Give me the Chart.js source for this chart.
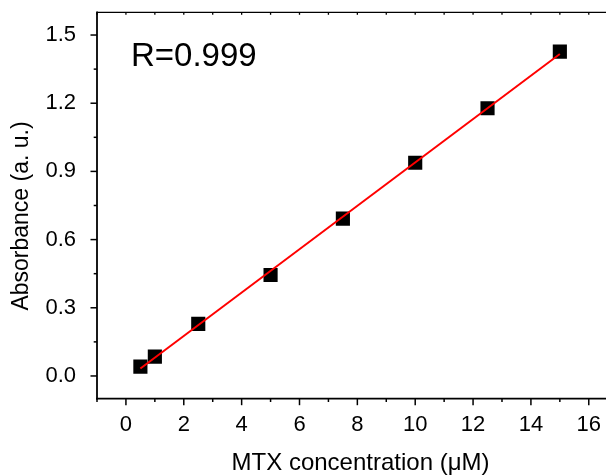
<!DOCTYPE html>
<html>
<head>
<meta charset="utf-8">
<script src="https://cdn.jsdelivr.net/npm/chart.js@4/dist/chart.umd.min.js"></script>
<style>
  html, body { margin: 0; padding: 0; background: #fff; overflow: hidden; }
  #wrap { width: 606px; height: 476px; overflow: hidden; }
  canvas { display: block; }
</style>
</head>
<body>
<div id="wrap"><canvas id="c" width="617" height="476"></canvas></div>
<script>
// Calibration data: MTX concentration (µM) vs. absorbance
const concentrations = [0.5, 1, 2.5, 5, 7.5, 10, 12.5, 15];
const absorbances = [0.041, 0.085, 0.229, 0.444, 0.692, 0.938, 1.178, 1.427];

// Axis ticks and labels
const xTickValues = [0, 2, 4, 6, 8, 10, 12, 14, 16];
const yTickValues = [0.0, 0.3, 0.6, 0.9, 1.2, 1.5];
const xTitle = 'MTX concentration (\u03BCM)';
const yTitle = 'Absorbance (a. u.)';
const fitLabel = 'R=0.999';

const FONT = "'Liberation Sans', Arial, sans-serif";

// Ordinary least-squares line through the measured points
function linearFit(xs, ys) {
  const n = xs.length;
  const mx = xs.reduce((s, v) => s + v, 0) / n;
  const my = ys.reduce((s, v) => s + v, 0) / n;
  let sxy = 0, sxx = 0;
  for (let i = 0; i < n; i++) {
    sxy += (xs[i] - mx) * (ys[i] - my);
    sxx += (xs[i] - mx) * (xs[i] - mx);
  }
  const slope = sxy / sxx;
  return { slope, intercept: my - slope * mx };
}
const fit = linearFit(concentrations, absorbances);
const fitX = [concentrations[0], concentrations[concentrations.length - 1]];
const fitPoints = fitX.map(x => ({ x, y: fit.intercept + fit.slope * x }));
const measuredPoints = concentrations.map((x, i) => ({ x, y: absorbances[i] }));

// Keep the plot box fixed: no extra room reserved for edge labels
function fixBox(size) {
  return s => {
    if (s.isHorizontal()) s.height = size; else s.width = size;
    s.paddingLeft = s.paddingRight = s.paddingTop = s.paddingBottom = 0;
  };
}

// Axis frame, tick marks, titles and the correlation note
const framePlugin = {
  id: 'frame',
  afterDraw(chart) {
    const { ctx, chartArea: a, scales: { x, y } } = chart;
    ctx.save();
    ctx.strokeStyle = '#000';
    const seg = (x1, y1, x2, y2) => { ctx.beginPath(); ctx.moveTo(x1, y1); ctx.lineTo(x2, y2); ctx.stroke(); };

    // top border with small inward ticks
    ctx.lineWidth = 1.3;
    seg(a.left, a.top, a.right, a.top);
    for (let v = Math.ceil(x.min); v <= x.max; v++) {
      const px = x.getPixelForValue(v);
      seg(px, a.top, px, a.top + 2.5);
    }

    // left and bottom axes
    ctx.lineWidth = 1.8;
    ctx.lineCap = 'square';
    seg(a.left, a.top, a.left, a.bottom);
    seg(a.left, a.bottom, a.right, a.bottom);
    ctx.lineCap = 'butt';

    // x ticks: major every 2, minor every 1
    ctx.lineWidth = 1.5;
    for (let v = Math.ceil(x.min); v <= x.max; v++) {
      const px = x.getPixelForValue(v);
      const len = (v % 2 === 0) ? 6.5 : 3.3;
      seg(px, a.bottom, px, a.bottom + len);
    }
    // y ticks: major every 0.3, minor halfway
    for (let k = -1; k <= 11; k++) {
      const v = k * 0.15;
      if (v < y.min || v > y.max) continue;
      const py = y.getPixelForValue(v);
      const len = (k % 2 === 0) ? 6.5 : 3.3;
      seg(a.left - len, py, a.left, py);
    }

    ctx.fillStyle = '#000';
    // x title
    ctx.font = '24px ' + FONT;
    ctx.textAlign = 'center';
    ctx.textBaseline = 'alphabetic';
    ctx.fillText(xTitle, 360.5, 470);
    // y title
    ctx.save();
    ctx.font = '23px ' + FONT;
    ctx.translate(22, 216);
    ctx.rotate(-Math.PI / 2);
    ctx.textBaseline = 'middle';
    ctx.fillText(yTitle, 0, 0);
    ctx.restore();
    // correlation note
    ctx.font = '33px ' + FONT;
    ctx.textAlign = 'left';
    ctx.textBaseline = 'alphabetic';
    ctx.fillText(fitLabel, 131, 65.7);
    ctx.restore();
  }
};

new Chart(document.getElementById('c'), {
  type: 'scatter',
  data: {
    datasets: [
      {
        type: 'line',
        label: 'fit',
        data: fitPoints,
        borderColor: '#ff0000',
        borderWidth: 2,
        pointRadius: 0,
        fill: false,
        order: 0
      },
      {
        label: 'measured',
        data: measuredPoints,
        pointStyle: 'rect',
        pointRadius: 10,
        pointBorderWidth: 0,
        backgroundColor: '#000',
        borderColor: '#000',
        order: 1
      }
    ]
  },
  options: {
    responsive: false,
    animation: false,
    events: [],
    layout: { padding: { top: 12.3, left: 0, right: 0, bottom: 0 } },
    plugins: { legend: { display: false }, tooltip: { enabled: false } },
    scales: {
      x: {
        type: 'linear',
        min: -1,
        max: 16.63,
        afterBuildTicks: s => { s.ticks = xTickValues.map(v => ({ value: v })); },
        afterFit: fixBox(77.3),
        grid: { display: false },
        border: { display: false },
        ticks: { color: '#000', padding: 7, font: { family: FONT, size: 22, lineHeight: 1 } }
      },
      y: {
        type: 'linear',
        min: -0.1,
        max: 1.6,
        afterBuildTicks: s => { s.ticks = yTickValues.map(v => ({ value: v })); },
        afterFit: fixBox(97),
        grid: { display: false },
        border: { display: false },
        ticks: {
          color: '#000', padding: 13,
          font: { family: FONT, size: 22, lineHeight: 1 },
          callback: v => Number(v).toFixed(1)
        }
      }
    }
  },
  plugins: [framePlugin]
});
</script>
</body>
</html>
